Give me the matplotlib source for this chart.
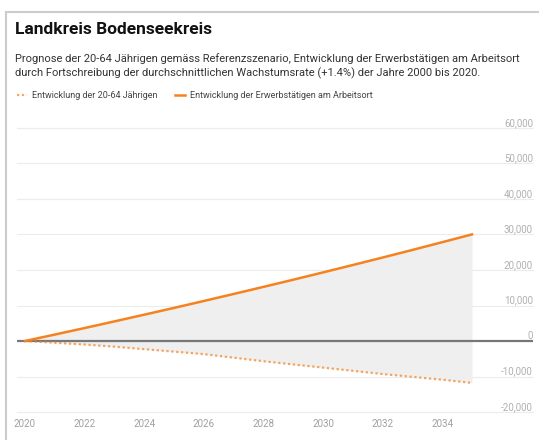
import matplotlib.pyplot as plt
from matplotlib.lines import Line2D

plt.rcParams['font.family'] = ['Roboto', 'DejaVu Sans']

years = list(range(2020, 2036))
erwerbstaetige = [0, 1810, 3650, 5520, 7410, 9320, 11270, 13240, 15240,
                  17260, 19320, 21400, 23510, 25650, 27830, 30030]
bevoelkerung = [0, -500, -1000, -1600, -2300, -3000, -3700, -4700, -5700,
                -6600, -7500, -8400, -9300, -10100, -10900, -11800]
y_ticks = [-20000, -10000, 0, 10000, 20000, 30000, 40000, 50000, 60000]
x_ticks = list(range(2020, 2035, 2))

title = "Landkreis Bodenseekreis"
subtitle = ("Prognose der 20-64 Jährigen gemäss Referenzszenario, Entwicklung der Erwerbstätigen am Arbeitsort\n"
            "durch Fortschreibung der durchschnittlichen Wachstumsrate (+1.4%) der Jahre 2000 bis 2020.")
label_bev = "Entwicklung der 20-64 Jährigen"
label_erw = "Entwicklung der Erwerbstätigen am Arbeitsort"

orange = '#f5821f'
W, H = 539, 440

fig = plt.figure(figsize=(W / 100, H / 100), dpi=100)
ax = fig.add_axes([17 / W, 1 - 412 / H, (533 - 17) / W, (412 - 128) / H])

ax.set_xlim(2020 - 8 / 29.8, 2020 + 508 / 29.8)
ax.set_ylim(-20000, 60000)

for v in y_ticks:
    if v == 0:
        ax.axhline(v, color='#777777', lw=1.6, zorder=3)
    else:
        ax.axhline(v, color='#ececec', lw=0.8, zorder=0, clip_on=False)
    lab = "0" if v == 0 else f"{v:,}"
    ax.text(1.0, v, lab, transform=ax.get_yaxis_transform(), ha='right',
            va='bottom', fontsize=7, color='#b0b0b0')

ax.fill_between(years, bevoelkerung, erwerbstaetige, color='#efefef', lw=0, zorder=1)
ax.plot(years, erwerbstaetige, color=orange, lw=1.8, zorder=4)
ax.plot(years, bevoelkerung, color=orange, lw=1.6, ls=(0, (1, 1.2)), alpha=0.7, zorder=4)

ax.set_yticks([])
ax.set_xticks(x_ticks)
ax.set_xticklabels([str(x) for x in x_ticks], fontsize=7, color='#a0a0a0')
ax.tick_params(axis='x', length=0, pad=5)
for s in ax.spines.values():
    s.set_visible(False)

fig.text(15 / W, 1 - 30 / H, title, fontsize=12.5, fontweight='bold', color='#111111', va='center')
fig.text(15 / W, 1 - 66 / H, subtitle, fontsize=8, color='#333333', va='center', linespacing=1.45)

handles = [Line2D([0], [0], color=orange, lw=1.6, ls=(0, (1, 1.2)), alpha=0.7),
           Line2D([0], [0], color=orange, lw=1.8)]
leg = fig.legend(handles, [label_bev, label_erw], loc='center left',
                 bbox_to_anchor=(9 / W, 1 - 96 / H), ncol=2, frameon=False,
                 fontsize=6.5, handlelength=1.1, handletextpad=0.5, columnspacing=2.0)
for t in leg.get_texts():
    t.set_color('#444444')

# frame around the card
fig.add_artist(Line2D([6 / W, 6 / W], [0, 1 - 12 / H], color='#cccccc', lw=1.5))
fig.add_artist(Line2D([6 / W, 1], [1 - 12 / H, 1 - 12 / H], color='#cccccc', lw=1.5))

fig.savefig('out.png', dpi=100)
